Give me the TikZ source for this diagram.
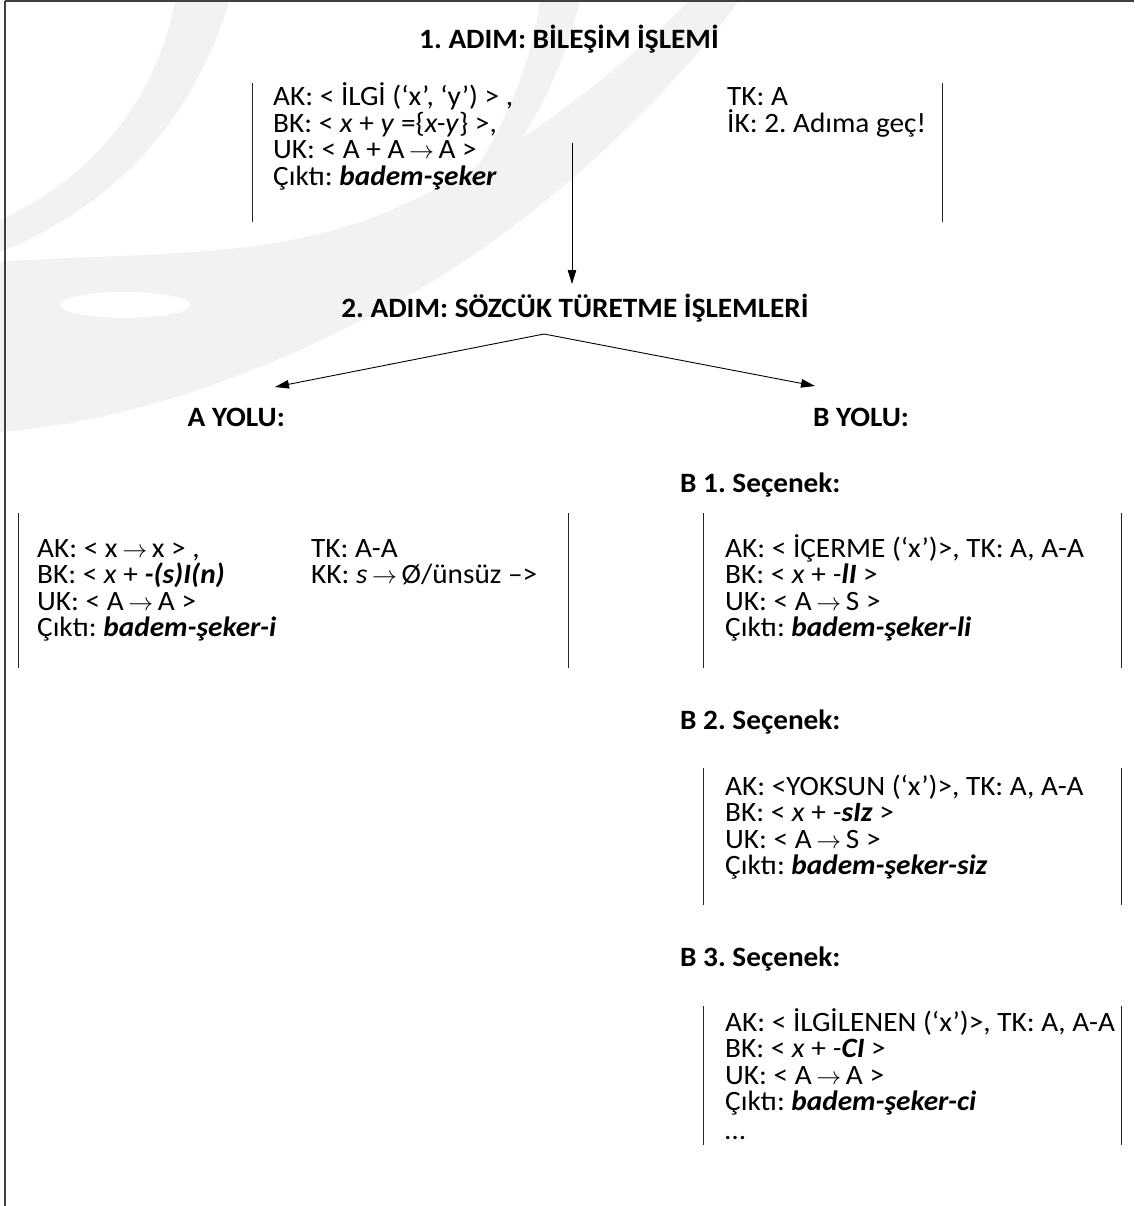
\documentclass[tikz,border=0pt]{standalone}
\usepackage{fontspec}
\setmainfont{Carlito}[FakeStretch=1.045]
\usetikzlibrary{arrows.meta}
\newcommand\myfs{\fontsize{28}{28.5}\selectfont\frenchspacing}
\newcommand\bi[1]{\textbf{\textit{#1}}}
\newcommand\ar{\,$\rightarrow$\,}
\tikzset{
  body/.style={font=\myfs, inner sep=0pt, anchor=base west, text height=19pt, text depth=6pt},
  head/.style={font=\myfs\bfseries, inner sep=0pt},
  bar/.style={line width=0.9pt, draw=black!85},
  conn/.style={line width=0.9pt, -{Triangle[length=14pt,width=8.5pt]}},
  wm/.style={fill=black!5, draw=none},
}
\begin{document}
\begin{tikzpicture}[x=1pt,y=-1pt]
\useasboundingbox (0,0) rectangle (1134,1206);
% watermark
\fill[wm] (175,0) -- (230,0) .. controls (200,95) and (140,195) .. (0,252) -- (0,220) .. controls (105,172) and (160,85) .. (175,0) -- cycle;
\fill[wm] (0,262) .. controls (120,252) and (260,262) .. (380,215) .. controls (500,165) and (610,80) .. (690,0) -- (740,0) .. controls (650,120) and (520,235) .. (400,300) .. controls (290,360) and (150,420) .. (0,432) -- cycle;
\fill[white] (125,305) ellipse [x radius=65, y radius=13];
\fill[wm] (540,0) -- (580,0) .. controls (555,110) and (480,220) .. (370,300) .. controls (460,210) and (525,110) .. (540,0) -- cycle;
% outer frame
\draw[line width=1.5pt, black!75] (5,1.2) -- (1134,1.2);
\draw[line width=1.5pt, black!75] (5,1.2) -- (5,1206);
% step 1
\node[head, anchor=base] (t1) at (569,49) {1. ADIM: BİLEŞİM İŞLEMİ};
\draw[bar] (252,83) -- (252,222);
\draw[bar] (942,83) -- (942,222);
\node[body] (s1a) at (273,106) {AK: < İLGİ (‘x’, ‘y’) > ,};
\node[body] (s1b) at (273,132.5) {BK: < \textit{x} + \textit{y} =\{\textit{x-y}\} >,};
\node[body] (s1c) at (273,159) {UK: < A + A\ar A >};
\node[body] (s1d) at (273,185.5) {Çıktı: \bi{badem-şeker}};
\node[body] (s1e) at (727,106) {TK: A};
\node[body] (s1f) at (727,132.5) {İK: 2. Adıma geç!};
\coordinate (a1s) at (572,143);
\coordinate (a1e) at (572,284);
\draw[conn] (a1s) -- (a1e);
% step 2
\node[head, anchor=base] (t2) at (575,317) {2. ADIM: SÖZCÜK TÜRETME İŞLEMLERİ};
\coordinate (apex) at (544,334);
\coordinate (atip) at (275,387);
\coordinate (btip) at (815,386);
\draw[conn] (apex) -- (atip);
\draw[conn] (apex) -- (btip);
\node[head, anchor=base east] (ay) at (285,426) {A YOLU:};
\node[head, anchor=base west] (by) at (813,426) {B YOLU:};
% A path box
\draw[bar] (18,513) -- (18,668);
\draw[bar] (568,513) -- (568,668);
\node[body] (aa) at (37,557) {AK: < x\ar x > ,};
\node[body] (ab) at (37,583.5) {BK: < \textit{x} + \bi{-(s)I(n)}};
\node[body] (ac) at (37,610) {UK: < A\ar A >};
\node[body] (ad) at (37,636.5) {Çıktı: \bi{badem-şeker-i}};
\node[body] (ae) at (311,557) {TK: A-A};
\node[body] (af) at (311,583.5) {KK: \textit{s}\ar Ø/ünsüz –>};
% B1
\node[head, anchor=base west] (b1h) at (680,492) {B 1. Seçenek:};
\draw[bar] (703,513) -- (703,668);
\draw[bar] (1121,513) -- (1121,668);
\node[body] (b1a) at (725,557) {AK: < İÇERME (‘x’)>, TK: A, A-A};
\node[body] (b1b) at (725,583.5) {BK: < \textit{x} + \textit{-}\bi{lI} >};
\node[body] (b1c) at (725,610) {UK: < A\ar S >};
\node[body] (b1d) at (725,636.5) {Çıktı: \bi{badem-şeker-li}};
% B2
\node[head, anchor=base west] (b2h) at (680,729) {B 2. Seçenek:};
\draw[bar] (703,768) -- (703,905);
\draw[bar] (1121,768) -- (1121,905);
\node[body] (b2a) at (725,795) {AK: <YOKSUN (‘x’)>, TK: A, A-A};
\node[body] (b2b) at (725,821.5) {BK: < \textit{x} + \textit{-}\bi{sIz} >};
\node[body] (b2c) at (725,848) {UK: < A\ar S >};
\node[body] (b2d) at (725,874.5) {Çıktı: \bi{badem-şeker-siz}};
% B3
\node[head, anchor=base west] (b3h) at (680,966) {B 3. Seçenek:};
\draw[bar] (703,1006) -- (703,1145);
\draw[bar] (1121,1006) -- (1121,1145);
\node[body] (b3a) at (725,1031) {AK: < İLGİLENEN (‘x’)>, TK: A, A-A};
\node[body] (b3b) at (725,1057.5) {BK: < \textit{x} + \textit{-}\bi{CI} >};
\node[body] (b3c) at (725,1084) {UK: < A\ar A >};
\node[body] (b3d) at (725,1110.5) {Çıktı: \bi{badem-şeker-ci}};
\node[body] (b3e) at (725,1139) {…};
\end{tikzpicture}
\end{document}
